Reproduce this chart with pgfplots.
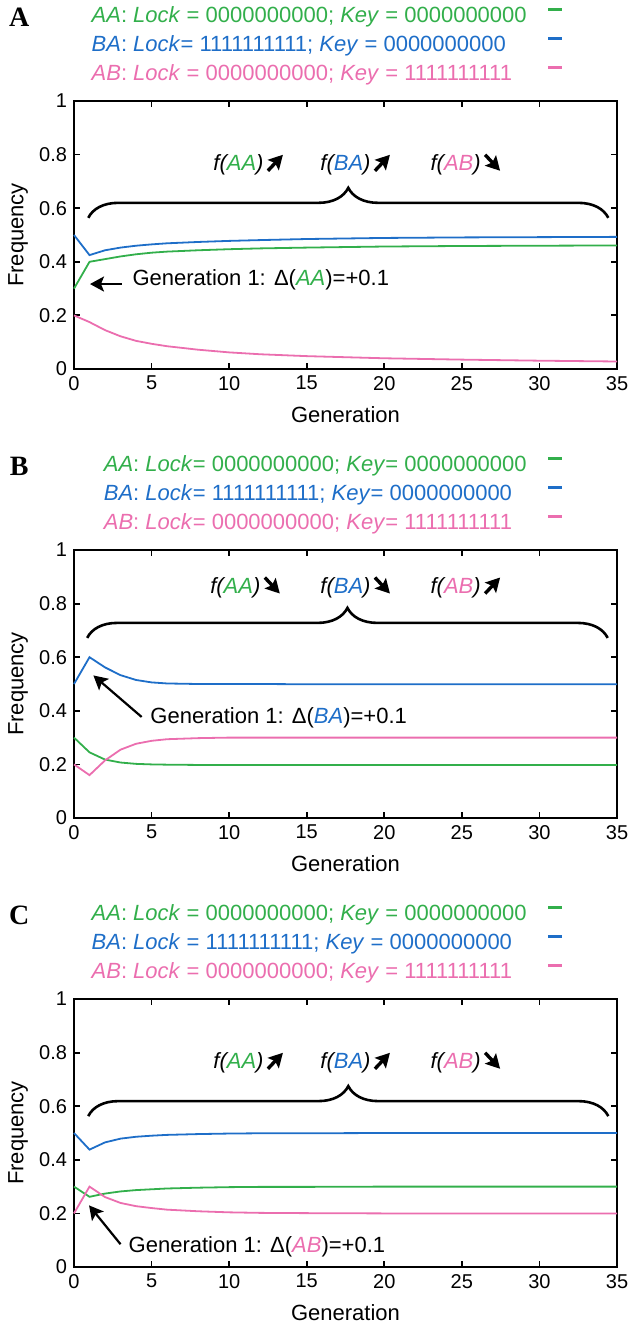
\documentclass[border=0pt]{standalone}
\usepackage{fontspec}
\setmainfont{Liberation Sans}
\newfontfamily\serifbf{Liberation Serif}
\usepackage{pgfplots}
\pgfplotsset{compat=1.18}
\usepackage{pgfplotstable}
\usetikzlibrary{arrows.meta,decorations.pathreplacing}

\definecolor{cgreen}{RGB}{50,175,75}
\definecolor{cblue}{RGB}{30,110,200}
\definecolor{cpink}{RGB}{235,110,175}

\newcommand\lab{\fontsize{11}{13}\selectfont}

% frequencies per generation, panel A
\pgfplotstableread{
gen AA    BA    AB
0   0.300 0.500 0.200
1   0.400 0.425 0.175
2   0.410 0.443 0.145
3   0.420 0.453 0.122
4   0.428 0.460 0.105
5   0.434 0.465 0.094
6   0.438 0.469 0.085
8   0.443 0.474 0.072
10  0.447 0.478 0.062
12  0.450 0.481 0.055
15  0.453 0.485 0.048
20  0.457 0.489 0.040
25  0.459 0.491 0.035
30  0.460 0.492 0.031
35  0.461 0.493 0.028
}\dataA

% panel B
\pgfplotstableread{
gen AA    BA    AB
0   0.300 0.500 0.200
1   0.245 0.600 0.160
2   0.218 0.562 0.215
3   0.207 0.533 0.255
4   0.202 0.515 0.277
5   0.200 0.506 0.288
6   0.199 0.502 0.294
8   0.198 0.500 0.298
10  0.198 0.500 0.300
12  0.198 0.500 0.300
15  0.198 0.499 0.300
20  0.198 0.499 0.300
25  0.198 0.499 0.300
30  0.198 0.499 0.300
35  0.198 0.499 0.300
}\dataB

% panel C
\pgfplotstableread{
gen AA    BA    AB
0   0.300 0.500 0.200
1   0.262 0.438 0.300
2   0.274 0.465 0.261
3   0.282 0.479 0.239
4   0.287 0.486 0.227
5   0.290 0.490 0.220
6   0.293 0.493 0.214
8   0.296 0.496 0.208
10  0.298 0.498 0.204
12  0.299 0.499 0.202
15  0.299 0.499 0.201
20  0.300 0.500 0.200
25  0.300 0.500 0.200
30  0.300 0.500 0.200
35  0.300 0.500 0.200
}\dataC

\pgfplotsset{
  panel/.style={
    scale only axis, width=271.5pt, height=134pt,
    xmin=0, xmax=35, ymin=0, ymax=1,
    xtick={0,5,...,35}, ytick={0,0.2,0.4,0.6,0.8,1},
    major tick length=3pt,
    axis line style={line width=0.9pt},
    every tick/.style={black, line width=0.9pt},
    tick label style={font=\fontsize{10}{12}\selectfont},
    /pgf/number format/assume math mode=true,
    label style={font=\lab},
    xlabel={Generation}, ylabel={Frequency},
    xlabel style={yshift=-1.5pt},
    ylabel style={at={(axis description cs:-0.103,0.5)}, anchor=center},
    clip=false,
    legend plot pos=right, legend cell align=left,
    legend image code/.code={\draw[##1, line width=1.6pt] (0pt,3.5pt) -- (7pt,3.5pt);},
    legend style={draw=none, fill=none, inner sep=0pt,
      at={(axis description cs:0.903,1.058)}, anchor=south east,
      font=\lab, row sep=4pt, /tikz/column sep=10pt,
      nodes={inner sep=0pt, text height=8pt, text depth=2.5pt}},
  },
  curve/.style={line width=0.9pt, no marks},
}
\tikzset{
  trend/.style={line width=1.7pt, -{Stealth[length=7pt,width=7.5pt,inset=1.3pt]}},
  genarrow/.style={line width=1.1pt, -{Stealth[length=7pt,width=7.5pt,inset=1.5pt]}},
  curly/.style={line width=1.3pt, decorate, decoration={brace, amplitude=15pt}},
}

\newcommand\upar[1]{\draw[trend] ([shift={(2pt,-3pt)}]#1.east) -- ++(7.5pt,8pt);}
\newcommand\dnar[1]{\draw[trend] ([shift={(2pt,5pt)}]#1.east) -- ++(7.5pt,-8pt);}

\begin{document}
\begin{tikzpicture}

% ---------- A ----------
\begin{axis}[panel]
\addplot[curve, cgreen] table[x=gen,y=AA] {\dataA};
\addlegendentry{\textcolor{cgreen}{\textit{AA}: \textit{Lock} = 0000000000; \textit{Key} = 0000000000}}
\addplot[curve, cblue] table[x=gen,y=BA] {\dataA};
\addlegendentry{\textcolor{cblue}{\textit{BA}: \textit{Lock}= 1111111111; \textit{Key} = 0000000000}}
\addplot[curve, cpink] table[x=gen,y=AB] {\dataA};
\addlegendentry{\textcolor{cpink}{\textit{AB}: \textit{Lock} = 0000000000; \textit{Key} = 1111111111}}
\node[font=\fontsize{14}{16}\selectfont\serifbf\bfseries] at (axis description cs:-0.101,1.313) {A};
\node[inner sep=0pt, font=\lab] (a1) at (axis cs:10.6,0.762) {\textit{f(\textcolor{cgreen}{AA})}};
\node[inner sep=0pt, font=\lab] (a2) at (axis cs:17.5,0.762) {\textit{f(\textcolor{cblue}{BA})}};
\node[inner sep=0pt, font=\lab] (a3) at (axis cs:24.6,0.762) {\textit{f(\textcolor{cpink}{AB})}};
\upar{a1}\upar{a2}\dnar{a3}
\draw[curly] (axis cs:0.92,0.564) -- (axis cs:34.44,0.564);
\node[anchor=west, inner sep=0pt, font=\lab] at (axis cs:3.75,0.332) {Generation 1: Δ(\textit{\textcolor{cgreen}{AA}})=+0.1};
\draw[genarrow] (axis cs:3.07,0.317) -- (axis cs:1.03,0.317);
\end{axis}

% ---------- B ----------
\begin{axis}[panel, at={(0pt,-224.5pt)}]
\addplot[curve, cgreen] table[x=gen,y=AA] {\dataB};
\addlegendentry{\textcolor{cgreen}{\textit{AA}: \textit{Lock}= 0000000000; \textit{Key}= 0000000000}}
\addplot[curve, cblue] table[x=gen,y=BA] {\dataB};
\addlegendentry{\textcolor{cblue}{\textit{BA}: \textit{Lock}= 1111111111; \textit{Key}= 0000000000}}
\addplot[curve, cpink] table[x=gen,y=AB] {\dataB};
\addlegendentry{\textcolor{cpink}{\textit{AB}: \textit{Lock}= 0000000000; \textit{Key}= 1111111111}}
\node[font=\fontsize{14}{16}\selectfont\serifbf\bfseries] at (axis description cs:-0.101,1.313) {B};
\node[inner sep=0pt, font=\lab] (b1) at (axis cs:10.4,0.86) {\textit{f(\textcolor{cgreen}{AA})}};
\node[inner sep=0pt, font=\lab] (b2) at (axis cs:17.5,0.86) {\textit{f(\textcolor{cblue}{BA})}};
\node[inner sep=0pt, font=\lab] (b3) at (axis cs:24.6,0.86) {\textit{f(\textcolor{cpink}{AB})}};
\dnar{b1}\dnar{b2}\upar{b3}
\draw[curly] (axis cs:0.85,0.672) -- (axis cs:34.4,0.672);
\node[anchor=west, inner sep=0pt, font=\lab] at (axis cs:4.9,0.375) {Generation 1: Δ(\textit{\textcolor{cblue}{BA}})=+0.1};
\draw[genarrow] (axis cs:4.36,0.377) -- (axis cs:1.25,0.532);
\end{axis}

% ---------- C ----------
\begin{axis}[panel, at={(0pt,-449pt)}]
\addplot[curve, cgreen] table[x=gen,y=AA] {\dataC};
\addlegendentry{\textcolor{cgreen}{\textit{AA}: \textit{Lock} = 0000000000; \textit{Key} = 0000000000}}
\addplot[curve, cblue] table[x=gen,y=BA] {\dataC};
\addlegendentry{\textcolor{cblue}{\textit{BA}: \textit{Lock} = 1111111111; \textit{Key} = 0000000000}}
\addplot[curve, cpink] table[x=gen,y=AB] {\dataC};
\addlegendentry{\textcolor{cpink}{\textit{AB}: \textit{Lock} = 0000000000; \textit{Key} = 1111111111}}
\node[font=\fontsize{14}{16}\selectfont\serifbf\bfseries] at (axis description cs:-0.101,1.313) {C};
\node[inner sep=0pt, font=\lab] (c1) at (axis cs:10.6,0.762) {\textit{f(\textcolor{cgreen}{AA})}};
\node[inner sep=0pt, font=\lab] (c2) at (axis cs:17.5,0.762) {\textit{f(\textcolor{cblue}{BA})}};
\node[inner sep=0pt, font=\lab] (c3) at (axis cs:24.6,0.762) {\textit{f(\textcolor{cpink}{AB})}};
\upar{c1}\upar{c2}\dnar{c3}
\draw[curly] (axis cs:0.92,0.563) -- (axis cs:34.44,0.563);
\node[anchor=west, inner sep=0pt, font=\lab] at (axis cs:3.5,0.075) {Generation 1: Δ(\textit{\textcolor{cpink}{AB}})=+0.1};
\draw[genarrow] (axis cs:3.0,0.085) -- (axis cs:0.97,0.23);
\end{axis}

\pgfresetboundingbox
\path[use as bounding box] (-37pt,-479pt) rectangle (277.5pt,184.5pt);
\end{tikzpicture}
\end{document}
